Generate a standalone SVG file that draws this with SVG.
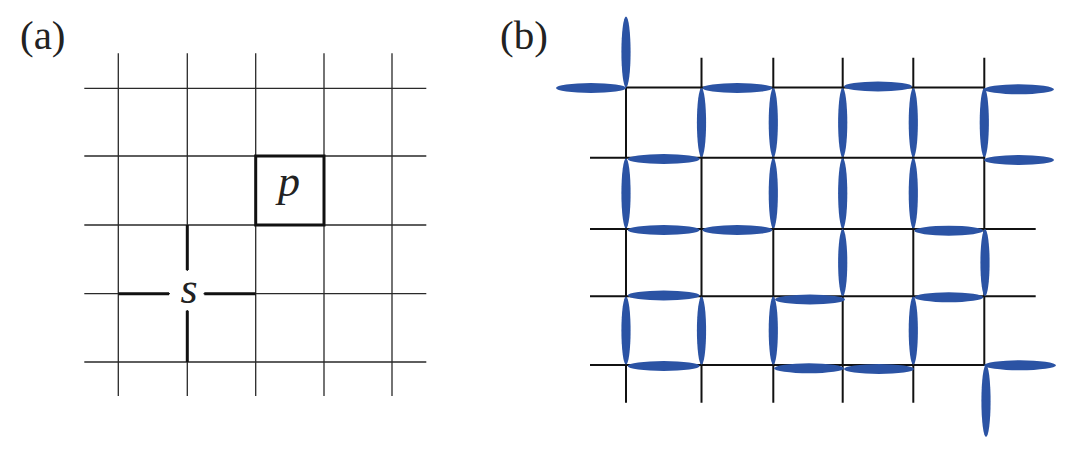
<svg xmlns="http://www.w3.org/2000/svg" width="1080" height="454" viewBox="0 0 1080 454">
<style>
.bg{fill:#ffffff}
.ga{stroke:#2a2a2a;stroke-width:1.3;fill:none}
.thick{stroke:#111;stroke-width:3;fill:none}
.gb{stroke:#111;stroke-width:2;fill:none}
.n{fill:#2B53A4}
.lbl{font-size:41px;fill:#222}
.var{font-style:italic;font-size:44px;fill:#222}
</style>
<rect class="bg" x="0" y="0" width="1080" height="454"/>

<g id="panel-a">
  <text class="lbl" x="20" y="49" font-family="'Liberation Serif', 'DejaVu Serif', serif">(a)</text>
  <g id="grid-a" class="ga">
    <path d="M118.3 53.3V396M187.3 53.3V396M255.7 53.3V396M324 53.3V396M392 53.3V396"/>
    <path d="M84.3 88.3H426.3M84.3 156H426.3M84.3 225H426.3M84.3 293.7H426.3M84.3 362H426.3"/>
  </g>
  <g id="node-p">
    <rect class="thick" x="255.7" y="156" width="68.3" height="69"/>
    <text class="var" x="289" y="196" text-anchor="middle" font-family="'Liberation Serif', 'DejaVu Serif', serif">p</text>
  </g>
  <g id="node-s">
    <rect x="170" y="271" width="33.5" height="39" fill="#ffffff"/>
    <path class="thick" d="M187.3 225V270M187.3 310.7V362M118.3 293.7H169M204.3 293.7H255.7"/>
    <text class="var" x="189" y="303" text-anchor="middle" font-family="'Liberation Serif', 'DejaVu Serif', serif">s</text>
  </g>
</g>

<g id="panel-b">
  <text class="lbl" x="500" y="49" font-family="'Liberation Serif', 'DejaVu Serif', serif">(b)</text>
  <g id="grid-b" class="gb">
    <path d="M626 87.5V402.7M701.5 57.7V402.7M773.3 57.7V402.7M842.7 57.7V402.7M913.3 57.7V402.7M984.3 57.7V365"/>
    <path d="M626 87.5H984.3M590 157.7H984.3M590 229H1035.7M590 296.3H1035.7M590 365H1035.7"/>
  </g>
  <g id="needles" class="n">
    <ellipse cx="591" cy="88" rx="35" ry="5"/>
    <ellipse cx="737.4" cy="88" rx="35" ry="5"/>
    <ellipse cx="878" cy="86.5" rx="34" ry="5"/>
    <ellipse cx="1019" cy="89.3" rx="35" ry="5"/>
    <ellipse cx="626" cy="52" rx="4.6" ry="35.5"/>
    <ellipse cx="701.5" cy="122.6" rx="4.6" ry="34.5"/>
    <ellipse cx="773.3" cy="122.6" rx="4.6" ry="34.5"/>
    <ellipse cx="842.7" cy="122.6" rx="4.6" ry="34.5"/>
    <ellipse cx="913.3" cy="122.6" rx="4.6" ry="34.5"/>
    <ellipse cx="984.3" cy="122.6" rx="4.6" ry="34.5"/>
    <ellipse cx="663.7" cy="159" rx="36" ry="5"/>
    <ellipse cx="1019" cy="160" rx="35" ry="5"/>
    <ellipse cx="626" cy="193.3" rx="4.6" ry="35"/>
    <ellipse cx="773.3" cy="193.3" rx="4.6" ry="35"/>
    <ellipse cx="842.7" cy="193.3" rx="4.6" ry="35"/>
    <ellipse cx="913.3" cy="193.3" rx="4.6" ry="35"/>
    <ellipse cx="663.7" cy="230" rx="36" ry="5"/>
    <ellipse cx="737.4" cy="230" rx="35" ry="5"/>
    <ellipse cx="948.8" cy="230.7" rx="34.5" ry="5"/>
    <ellipse cx="842.7" cy="262.6" rx="4.6" ry="33.5"/>
    <ellipse cx="985" cy="262.6" rx="4.6" ry="33.5"/>
    <ellipse cx="663.7" cy="295.5" rx="36" ry="5"/>
    <ellipse cx="810" cy="299.5" rx="35" ry="5"/>
    <ellipse cx="948.8" cy="297.3" rx="34.5" ry="5"/>
    <ellipse cx="626" cy="330.6" rx="4.6" ry="34"/>
    <ellipse cx="701.5" cy="330.6" rx="4.6" ry="34"/>
    <ellipse cx="773.3" cy="330.6" rx="4.6" ry="34"/>
    <ellipse cx="913.3" cy="330.6" rx="4.6" ry="34"/>
    <ellipse cx="663.7" cy="366" rx="36" ry="5"/>
    <ellipse cx="809" cy="368.3" rx="35" ry="5"/>
    <ellipse cx="879" cy="369" rx="35" ry="5"/>
    <ellipse cx="1020" cy="365.3" rx="36" ry="5"/>
    <ellipse cx="986" cy="401" rx="4.6" ry="36"/>
  </g>
</g>
</svg>
